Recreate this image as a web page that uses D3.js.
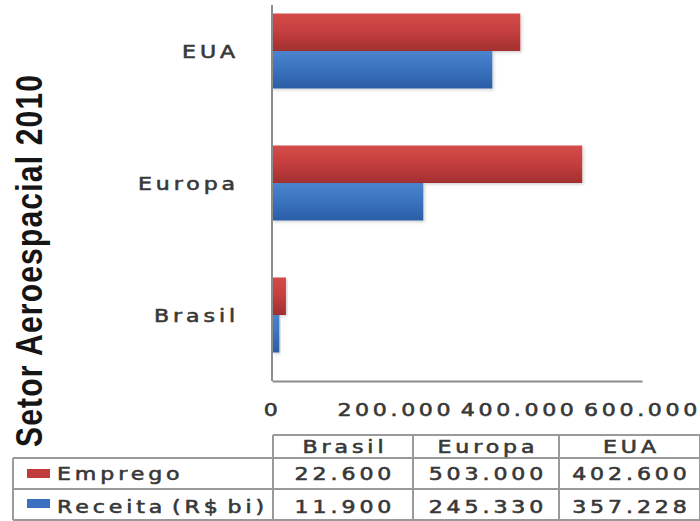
<!DOCTYPE html>
<html>
<head>
<meta charset="utf-8">
<script src="https://cdn.jsdelivr.net/npm/d3@7"></script>
<style>
  body { margin: 0; background: #fff; }
  svg { display: block; }
</style>
</head>
<body>
<svg id="chart" width="700" height="521"></svg>
<script>
// ---- data ----
const categories = ["EUA", "Europa", "Brasil"];          // bar groups, top to bottom
const seriesNames = ["Emprego", "Receita (R$ bi)"];
const emprego = [402600, 503000, 22600];                 // per category, same order
const receita = [357228, 245330, 11900];
const tableColumns = ["Brasil", "Europa", "EUA"];        // column order of the data table
const tickValues = [0, 200000, 400000, 600000];
const title = "Setor Aeroespacial 2010";

// ---- setup ----
const svg = d3.select("#chart");
const SX = 1.3;                  // horizontal glyph stretch of the small labels
const SXT = 1.22;                // horizontal glyph stretch of the vertical title
const LS = 3;                    // letter spacing of the labels
const FONT = "'DejaVu Sans', Verdana, sans-serif";
const TEXT = "#383838";
const fmt = d3.formatLocale({ decimal: ",", thousands: ".", grouping: [3], currency: ["R$", ""] }).format(",d");

const seriesValues = [emprego, receita];
const byCategory = categories.map((c, i) => ({ cat: c, values: seriesValues.map(s => s[i]) }));

const x = d3.scaleLinear().domain([0, 600000]).range([272, 642]);
const y = d3.scaleBand().domain(categories).range([-15, 381]).paddingInner(0.432).paddingOuter(0.216);
const ySub = d3.scaleBand().domain(seriesNames).range([0, y.bandwidth()]);

// shared look of the small labels
function labelStyle(sel) {
  sel.style("font-family", FONT).style("font-size", "17px")
    .style("letter-spacing", LS + "px")
    .attr("fill", TEXT).attr("stroke", TEXT).attr("stroke-width", 0.55);
}

// ---- gradients & shadow ----
const defs = svg.append("defs");
function grad(id, stops) {
  const g = defs.append("linearGradient").attr("id", id)
    .attr("x1", 0).attr("y1", 0).attr("x2", 0).attr("y2", 1);
  stops.forEach(([o, c]) => g.append("stop").attr("offset", o).attr("stop-color", c));
}
grad("gRed", [[0, "#d44b49"], [0.45, "#c63f3f"], [1, "#a22f30"]]);
grad("gBlue", [[0, "#4b84cc"], [0.45, "#3b74c0"], [1, "#2b5ea6"]]);
const fill = { "Emprego": "url(#gRed)", "Receita (R$ bi)": "url(#gBlue)" };
const swatch = { "Emprego": "#c23b3c", "Receita (R$ bi)": "#3a70c0" };

const shadow = defs.append("filter").attr("id", "shadow")
  .attr("x", "-5%").attr("y", "-20%").attr("width", "115%").attr("height", "150%");
shadow.append("feDropShadow").attr("dx", 1.5).attr("dy", 1.5).attr("stdDeviation", 1.5)
  .attr("flood-color", "#000").attr("flood-opacity", 0.18);

// ---- bars ----
const groups = svg.append("g").selectAll("g").data(byCategory).join("g")
  .attr("transform", d => `translate(0,${y(d.cat)})`);
groups.selectAll("rect")
  .data(d => d.values.map((v, j) => ({ name: seriesNames[j], v })))
  .join("rect")
  .attr("x", x(0))
  .attr("y", d => ySub(d.name))
  .attr("width", d => x(d.v) - x(0))
  .attr("height", ySub.bandwidth())
  .attr("fill", d => fill[d.name])
  .attr("filter", "url(#shadow)");

// ---- axes ----
const axisColor = "#8c8c8c";
svg.append("line")
  .attr("x1", x(0)).attr("x2", x(0)).attr("y1", 5).attr("y2", 381)
  .attr("stroke", axisColor).attr("stroke-width", 2);

const yAxis = svg.append("g").attr("transform", `translate(${x(0)},0)`)
  .call(d3.axisLeft(y).tickSize(0));
yAxis.select(".domain").remove();
yAxis.selectAll("text")
  .attr("x", null).attr("dy", "0.42em")
  .attr("transform", `translate(-33,0) scale(${SX},1)`)
  .call(labelStyle);

const xAxis = svg.append("g").attr("transform", "translate(0,381)")
  .call(d3.axisBottom(x).tickValues(tickValues).tickFormat(fmt).tickSize(0).tickPadding(23));
xAxis.select(".domain").attr("stroke", axisColor).attr("stroke-width", 2);
xAxis.selectAll("text")
  .attr("transform", `scale(${SX},1)`)
  .call(labelStyle)
  .style("letter-spacing", "2.8px");

// ---- vertical title ----
svg.append("text")
  .attr("transform", `translate(42,447) scale(${SXT},1) rotate(-90)`)
  .attr("text-anchor", "start")
  .style("font-family", "'Liberation Sans', Arial, sans-serif")
  .style("font-weight", "bold").style("font-size", "30px")
  .style("letter-spacing", "1.2px")
  .attr("fill", "#151515")
  .text(title);

// ---- data table ----
const colX = [13, 273, 413, 559, 700];
const rowY = [435, 458, 489, 520];
const grid = svg.append("g").attr("stroke", "#9a9a9a").attr("stroke-width", 2);
grid.append("line").attr("x1", colX[1]).attr("x2", colX[4]).attr("y1", rowY[0]).attr("y2", rowY[0]);
[rowY[1], rowY[2], rowY[3]].forEach(yy =>
  grid.append("line").attr("x1", colX[0]).attr("x2", colX[4]).attr("y1", yy).attr("y2", yy));
grid.append("line").attr("x1", colX[0]).attr("x2", colX[0]).attr("y1", rowY[1]).attr("y2", rowY[3]);
[colX[1], colX[2], colX[3], colX[4]].forEach(xx =>
  grid.append("line").attr("x1", xx).attr("x2", xx).attr("y1", rowY[0]).attr("y2", rowY[3]));

function cellText(px, py, str, anchor) {
  const dx = anchor === "middle" ? LS * SX / 2 : 0;
  return svg.append("text")
    .attr("transform", `translate(${px + dx},${py}) scale(${SX},1)`)
    .attr("text-anchor", anchor)
    .call(labelStyle)
    .text(str);
}

const headerBase = 453;
const rowBase = [480, 513];
tableColumns.forEach((c, k) => cellText((colX[k + 1] + colX[k + 2]) / 2, headerBase, c, "middle"));
seriesNames.forEach((name, j) => {
  const sy = j === 0 ? 469 : 499;
  svg.append("rect").attr("x", 27).attr("y", sy).attr("width", 23).attr("height", 9)
    .attr("fill", swatch[name]);
  cellText(57, rowBase[j], name, "start").style("word-spacing", "-4px");
  tableColumns.forEach((c, k) => {
    const v = seriesValues[j][categories.indexOf(c)];
    cellText((colX[k + 1] + colX[k + 2]) / 2, rowBase[j], fmt(v), "middle");
  });
});
</script>
</body>
</html>
